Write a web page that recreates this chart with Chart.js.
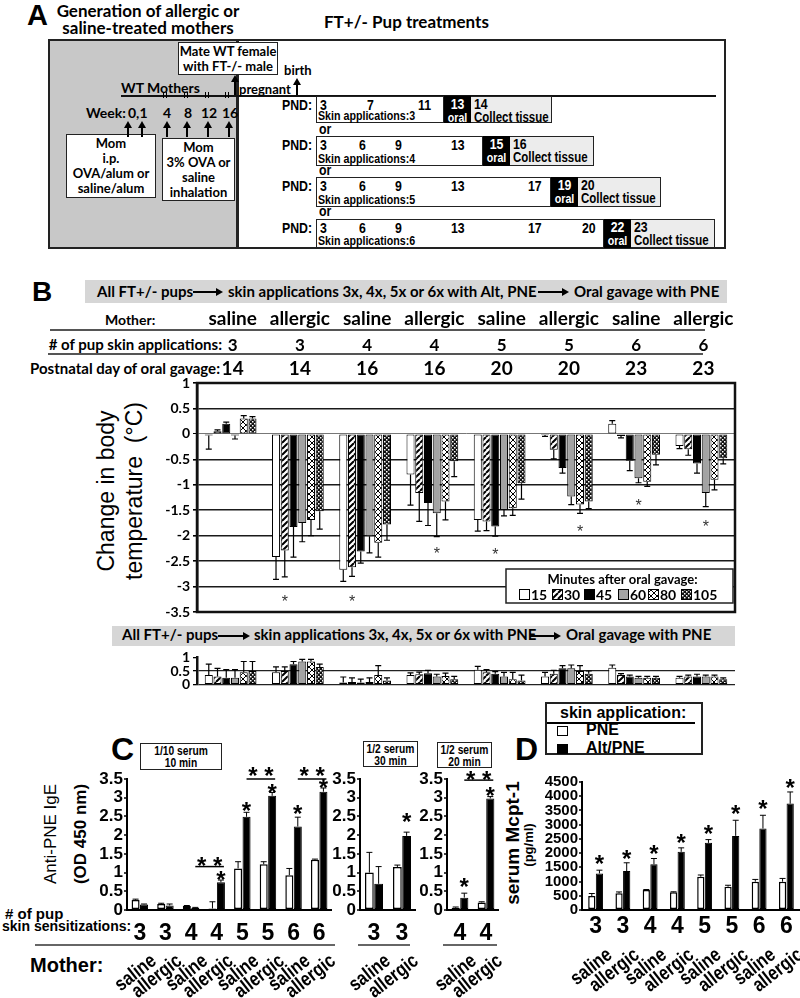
<!DOCTYPE html>
<html>
<head>
<meta charset="utf-8">
<title>Allergic mothers, FT+/- pups</title>
<script src="https://cdn.jsdelivr.net/npm/chart.js@4.4.1/dist/chart.umd.min.js"></script>
<style>
  html,body{margin:0;padding:0;background:#fff;}
  #page{position:relative;width:800px;height:998px;overflow:hidden;background:#fff;color:#000;}
  #page div, #page canvas{position:absolute;}
  .cal{font-family:Lato,'Open Sans',sans-serif;font-weight:700;white-space:nowrap;}
  .ari{font-family:'Liberation Sans',Arial,sans-serif;font-weight:700;white-space:nowrap;}
  .nar{font-family:'Liberation Sans',Arial,sans-serif;font-weight:700;white-space:nowrap;transform:scaleX(0.82);transform-origin:0 0;}
  .reg{font-family:'Liberation Sans',Arial,sans-serif;font-weight:400;white-space:nowrap;}
  .rot{transform:translate(-50%,-50%) rotate(-90deg);}
  .bx{border:1.5px solid #222;box-sizing:border-box;}
</style>
</head>
<body>
<div id="page">
  <!-- Panel A -->
  <div class="ari" style="left:27px;top:1px;font-size:29px;line-height:29px">A</div>
  <div class="cal" style="left:48px;top:2px;width:200px;text-align:center;font-size:17px;line-height:17px">Generation of allergic or<br>saline-treated mothers</div>
  <div class="cal" style="left:324px;top:13px;font-size:17px;line-height:17px">FT+/- Pup treatments</div>
  <div style="left:48px;top:39px;width:191px;height:210px;background:#c8c8c8;border:2px solid #222;box-sizing:border-box"></div>
  <div style="left:236px;top:39px;width:490px;height:210px;background:#fff;border:2px solid #222;border-left-width:3px;box-sizing:border-box"></div>
  <div class="cal bx" style="left:178px;top:42px;width:100px;height:33px;background:#fff;text-align:center;font-size:13px;line-height:15px;padding-top:1px">Mate WT female<br>with FT-/- male</div>
  <div class="cal" style="left:284px;top:64px;font-size:13px;line-height:13px">birth</div>
  <div style="left:121px;top:95px;width:595px;height:2px;background:#111"></div>
  <div class="cal" style="left:121px;top:81px;font-size:14px;line-height:14px">WT Mothers</div>
  <div class="cal" style="left:239px;top:83px;font-size:13px;line-height:13px">pregnant</div>
  <div class="cal" style="left:86px;top:106px;font-size:14px;line-height:14px">Week:</div>
  <div class="cal" style="left:128px;top:106px;font-size:14px;line-height:14px">0,1</div>
  <div class="cal" style="left:163px;top:106px;font-size:14px;line-height:14px">4</div>
  <div class="cal" style="left:184px;top:106px;font-size:14px;line-height:14px">8</div>
  <div class="cal" style="left:201px;top:106px;font-size:14px;line-height:14px">12</div>
  <div class="cal" style="left:222px;top:106px;font-size:14px;line-height:14px">16</div>
  <div class="cal bx" style="left:66px;top:134px;width:90px;height:64px;background:#fff;text-align:center;font-size:13px;line-height:15px;padding-top:1px">Mom<br>i.p.<br>OVA/alum or<br>saline/alum</div>
  <div class="cal bx" style="left:162px;top:138px;width:73px;height:63px;background:#fff;text-align:center;font-size:13px;line-height:15px;padding-top:1px">Mom<br>3% OVA or<br>saline<br>inhalation</div>
  <div class="nar" style="left:319px;top:121px;font-size:15px;line-height:15px">or</div>
  <div class="nar" style="left:319px;top:162px;font-size:15px;line-height:15px">or</div>
  <div class="nar" style="left:319px;top:203px;font-size:15px;line-height:15px">or</div>

  <!-- Panel B header -->
  <div class="ari" style="left:32px;top:278px;font-size:28px;line-height:28px">B</div>
  <div style="left:85px;top:280px;width:642px;height:23px;background:#d6d6d6"></div>
  <div class="cal" style="left:97px;top:284px;font-size:15px;line-height:15px">All FT+/- pups</div>
  <div class="cal" style="left:228px;top:284px;font-size:15px;line-height:15px">skin applications 3x, 4x, 5x or 6x with Alt, PNE</div>
  <div class="cal" style="left:574px;top:284px;font-size:15px;line-height:15px">Oral gavage with PNE</div>
  <div class="cal" style="left:105px;top:313px;font-size:14px;line-height:14px">Mother:</div>
  <div style="left:50px;top:329px;width:655px;height:2px;background:#555"></div>
  <div class="cal" style="left:0;top:337px;width:222px;text-align:right;font-size:15px;line-height:15px"># of pup skin applications:</div>
  <div style="left:48px;top:353px;width:655px;height:2px;background:#555"></div>
  <div class="cal" style="left:0;top:361px;width:220px;text-align:right;font-size:15px;line-height:15px">Postnatal day of oral gavage:</div>
  <div class="reg rot" style="left:106px;top:491px;font-size:23px;line-height:23px">Change in body</div>
  <div class="reg rot" style="left:134px;top:491px;font-size:23px;line-height:23px">temperature&nbsp; (°C)</div>
  <div style="left:112px;top:626px;width:623px;height:20px;background:#d6d6d6"></div>
  <div class="cal" style="left:122px;top:627px;font-size:15px;line-height:15px">All FT+/- pups</div>
  <div class="cal" style="left:254px;top:627px;font-size:15px;line-height:15px">skin applications 3x, 4x, 5x or 6x with PNE</div>
  <div class="cal" style="left:566px;top:627px;font-size:15px;line-height:15px">Oral gavage with PNE</div>

  <!-- Panel C -->
  <div class="ari" style="left:111px;top:733px;font-size:32px;line-height:32px">C</div>
  <div class="bx" style="left:140px;top:743px;width:82px;height:27px"></div>
  <div class="nar" style="left:140px;top:745px;width:100px;text-align:center;font-size:12.5px;line-height:12px">1/10 serum<br>10 min</div>
  <div class="bx" style="left:363px;top:741px;width:55px;height:26px"></div>
  <div class="nar" style="left:363px;top:743px;width:67px;text-align:center;font-size:12.5px;line-height:12px">1/2 serum<br>30 min</div>
  <div class="bx" style="left:437px;top:742px;width:55px;height:26px"></div>
  <div class="nar" style="left:437px;top:744px;width:67px;text-align:center;font-size:12.5px;line-height:12px">1/2 serum<br>20 min</div>
  <div class="reg rot" style="left:50px;top:834px;font-size:17px;line-height:17px">Anti-PNE IgE</div>
  <div class="ari rot" style="left:80px;top:834px;font-size:17px;line-height:17px">(OD 450 nm)</div>
  <div class="ari" style="left:5px;top:906px;font-size:15px;line-height:15px"># of pup</div>
  <div class="ari" style="left:2px;top:919px;font-size:14px;line-height:14px">skin sensitizations:</div>
  <div style="left:35px;top:944px;width:300px;height:2px;background:#666"></div>
  <div style="left:358px;top:944px;width:52px;height:2px;background:#666"></div>
  <div style="left:443px;top:944px;width:54px;height:2px;background:#666"></div>
  <div class="ari" style="left:30px;top:955px;font-size:20px;line-height:20px">Mother:</div>

  <!-- Panel D -->
  <div class="ari" style="left:515px;top:733px;font-size:32px;line-height:32px">D</div>
  <div style="left:545px;top:702px;width:158px;height:53px;border:2px solid #222;box-sizing:border-box;background:#fff"></div>
  <div class="ari" style="left:560px;top:705px;font-size:16px;line-height:16px">skin application:</div>
  <div style="left:547px;top:722px;width:148px;height:2px;background:#000"></div>
  <div style="left:557px;top:726px;width:11px;height:10px;border:1.5px solid #000;box-sizing:border-box"></div>
  <div class="ari" style="left:586px;top:722px;font-size:16px;line-height:16px">PNE</div>
  <div style="left:557px;top:744px;width:11px;height:10px;background:#000"></div>
  <div class="ari" style="left:586px;top:740px;font-size:16px;line-height:16px">Alt/PNE</div>
  <div class="ari rot" style="left:512px;top:843px;font-size:19px;line-height:19px">serum Mcpt-1</div>
  <div class="ari rot" style="left:528px;top:845px;font-size:13px;line-height:13px">(pg/ml)</div>

  <canvas id="bMain" width="745" height="320" style="left:0;top:305px"></canvas>
  <canvas id="bPne" width="745" height="50" style="left:0;top:646px"></canvas>
  <canvas id="c1" width="340" height="258" style="left:0;top:740px"></canvas>
  <canvas id="c2" width="93" height="258" style="left:328px;top:740px"></canvas>
  <canvas id="c3" width="89" height="258" style="left:415px;top:740px"></canvas>
  <canvas id="d1" width="262" height="258" style="left:538px;top:740px"></canvas>
</div>

<script>
// ---------- data ----------
const groupMothers = ['saline','allergic','saline','allergic','saline','allergic','saline','allergic'];
const groupSkinApps = [3,3,4,4,5,5,6,6];
const groupGavageDay = [14,14,16,16,20,20,23,23];
const minuteLabels = ['15','30','45','60','80','105'];

// B: Alt, PNE skin applications -> change in body temperature (°C), per minute after gavage
const alt15 = [-0.03,-2.42,-2.67,-0.80,-1.69,-0.02, 0.20,-0.24];
const alt30 = [ 0.05,-2.29,-2.62,-1.16,-1.72,-0.31,-0.04,-0.30];
const alt45 = [ 0.20,-1.83,-2.31,-1.36,-1.82,-0.67,-0.53,-0.58];
const alt60 = [-0.03,-1.75,-2.01,-1.56,-1.49,-1.23,-0.87,-1.16];
const alt80 = [ 0.30,-1.69,-2.14,-1.33,-1.46,-1.39,-0.94,-0.90];
const alt105 = [0.30,-1.52,-1.78,-0.54,-0.97,-1.33,-0.41,-0.48];
const alt15Err = [0.27,0.44,0.23,0.60,0.22,0.03,0.06,0.05];
const alt30Err = [0.03,0.52,0.18,0.56,0.18,0.18,0.04,0.12];
const alt45Err = [0.03,0.59,0.23,0.44,0.19,0.10,0.19,0.19];
const alt60Err = [0.07,0.37,0.33,0.46,0.12,0.16,0.09,0.27];
const alt80Err = [0.06,0.31,0.28,0.36,0.14,0.17,0.09,0.20];
const alt105Err = [0.04,0.35,0.31,0.30,0.31,0.14,0.20,0.11];
// significance marks: [group, minute index, y]
const altStars = [[1,1,-3.22],[2,1,-3.22],[3,3,-2.27],[4,2,-2.30],[5,4,-1.84],[6,3,-1.33],[7,3,-1.75]];

// B lower: PNE-only skin applications
const pne15 = [0.35,0.45,0.08,0.35,0.55,0.30,0.62,0.25];
const pne30 = [0.30,0.50,0.10,0.38,0.45,0.40,0.35,0.30];
const pne45 = [0.25,0.75,0.08,0.42,0.40,0.60,0.30,0.30];
const pne60 = [0.25,0.85,0.10,0.30,0.30,0.60,0.25,0.30];
const pne80 = [0.45,0.85,0.35,0.32,0.20,0.50,0.25,0.30];
const pne105 = [0.50,0.65,0.15,0.20,0.15,0.40,0.25,0.20];
const pne15Err = [0.40,0.20,0.20,0.08,0.12,0.15,0.10,0.05];
const pne30Err = [0.30,0.15,0.15,0.08,0.10,0.12,0.05,0.05];
const pne45Err = [0.30,0.10,0.12,0.10,0.08,0.10,0.05,0.08];
const pne60Err = [0.30,0.08,0.15,0.08,0.15,0.12,0.05,0.05];
const pne80Err = [0.40,0.08,0.35,0.10,0.25,0.20,0.05,0.05];
const pne105Err = [0.35,0.10,0.10,0.10,0.20,0.10,0.05,0.05];

// C: anti-PNE IgE (OD 450 nm)
const igePne = [0.27,0.16,0.11,0.04,1.11,1.22,0.93,1.34];
const igePneErr = [0.02,0.02,0.01,0.18,0.18,0.07,0.18,0.02];
const igeAlt = [0.15,0.12,0.06,0.74,2.49,3.05,2.23,3.16];
const igeAltErr = [0.01,0.04,0.01,0.06,0.12,0.09,0.25,0.10];
const igeStars = [[3,0.96],[4,2.81],[5,3.29],[6,2.73],[7,3.42]];
const c2Mothers = ['saline','allergic'];
const c2Skin = [3,3];
const ige2Pne = [1.00,1.15], ige2PneErr = [0.54,0.05];
const ige2Alt = [0.70,1.98], ige2AltErr = [0.46,0.10];
const c3Skin = [4,4];
const ige3Pne = [0.06,0.20], ige3PneErr = [0.02,0.02];
const ige3Alt = [0.33,2.98], ige3AltErr = [0.12,0.05];

// D: serum Mcpt-1 (pg/ml)
const mcptPne = [490,585,700,620,1170,820,995,995];
const mcptPneErr = [90,50,20,20,60,50,80,115];
const mcptAlt = [1285,1370,1610,2045,2360,2605,2865,3740];
const mcptAltErr = [115,290,200,140,115,550,465,410];
const mcptStars = [1812,1987,2162,2571,2864,3565,3740,4480];

// ---------- diagram helpers (panel A, arrows) ----------
const ARIAL = "'Liberation Sans', Arial, sans-serif";
const LATO = "Lato, 'Open Sans', sans-serif";

function add(html){ document.getElementById('page').insertAdjacentHTML('beforeend', html); }
function upArrow(x, top, bottom){
  add(`<div style="left:${x-1}px;top:${top+6}px;width:2px;height:${bottom-top-6}px;background:#000"></div>`);
  add(`<div style="left:${x-4}px;top:${top}px;width:0;height:0;border-left:4px solid transparent;border-right:4px solid transparent;border-bottom:7px solid #000"></div>`);
}
function rightArrow(x1, x2, y){
  add(`<div style="left:${x1}px;top:${y-1}px;width:${x2-x1-6}px;height:1.5px;background:#000"></div>`);
  add(`<div style="left:${x2-7}px;top:${y-4}px;width:0;height:0;border-top:4px solid transparent;border-bottom:4px solid transparent;border-left:7px solid #000"></div>`);
}
[[128,121,137],[142,121,137],[167,121,137],[187,121,137],[208,121,137],[229,121,137],[235,75,95],[297,78,95]]
  .forEach(a => upArrow(...a));
[165,186,207,227].forEach(x => add(`<div style="left:${x-2}px;top:92px;width:1px;height:6px;background:#000;box-shadow:3px 0 0 #000"></div>`));
rightArrow(193, 223, 292); rightArrow(538, 569, 292);
rightArrow(218, 250, 636); rightArrow(530, 561, 636);

const pndRows = [
  {top:96, h:27, white:444, black:471, gray:552, apps:3, oral:'13', collect:'14', days:[['3',320],['7',367],['11',418]]},
  {top:136, h:30, white:483, black:510, gray:594, apps:4, oral:'15', collect:'16', days:[['3',320],['6',359],['9',395],['13',451]]},
  {top:177, h:30, white:551, black:578, gray:661, apps:5, oral:'19', collect:'20', days:[['3',320],['6',359],['9',395],['13',451],['17',528]]},
  {top:219, h:29, white:604, black:631, gray:715, apps:6, oral:'22', collect:'23', days:[['3',320],['6',359],['9',395],['13',451],['17',528],['20',582]]}
];
pndRows.forEach(r => {
  add(`<div class="nar" style="left:282px;top:${r.top+1}px;font-size:15px;line-height:15px">PND:</div>`);
  add(`<div class="bx" style="left:316px;top:${r.top}px;width:${r.white-316}px;height:${r.h}px;background:#fff"></div>`);
  r.days.forEach(([t, x]) => add(`<div class="nar" style="left:${x}px;top:${r.top+1}px;font-size:15px;line-height:15px">${t}</div>`));
  add(`<div class="nar" style="left:318px;top:${r.top+r.h-14}px;font-size:13px;line-height:13px">Skin applications:${r.apps}</div>`);
  add(`<div style="left:${r.white}px;top:${r.top}px;width:${r.black-r.white}px;height:${r.h}px;background:#000"></div>`);
  add(`<div class="nar" style="left:${r.white}px;top:${r.top+1}px;width:${(r.black-r.white)/0.82}px;color:#fff;text-align:center;font-size:15px;line-height:13px">${r.oral}<br><span style="font-size:13px">oral</span></div>`);
  add(`<div class="bx" style="left:${r.black}px;top:${r.top}px;width:${r.gray-r.black}px;height:${r.h}px;border-left:none;background:#ececec"></div>`);
  add(`<div class="nar" style="left:${r.black+3}px;top:${r.top+1}px;font-size:15px;line-height:13px">${r.collect}<br><span style="font-size:14px">Collect tissue</span></div>`);
});

// ---------- bar fills ----------
function tile(kind){
  const c = document.createElement('canvas');
  const g = c.getContext('2d');
  if(kind === 'stripe'){
    c.width = c.height = 6;
    g.fillStyle = '#fff'; g.fillRect(0,0,6,6);
    g.strokeStyle = '#000'; g.lineWidth = 2;
    g.beginPath();
    for(let k=-6;k<=6;k+=6){ g.moveTo(k,6); g.lineTo(k+6,0); }
    g.stroke();
  }else if(kind === 'cross'){
    c.width = c.height = 6;
    g.fillStyle = '#fff'; g.fillRect(0,0,6,6);
    g.strokeStyle = '#000'; g.lineWidth = 1;
    g.beginPath();
    g.moveTo(0,0); g.lineTo(6,6); g.moveTo(0,6); g.lineTo(6,0);
    g.stroke();
  }else{
    c.width = c.height = 4;
    g.fillStyle = '#111'; g.fillRect(0,0,4,4);
    g.fillStyle = '#fff'; g.fillRect(0,0,1.5,1.5); g.fillRect(2,2,1.5,1.5);
  }
  return g.createPattern(c, 'repeat');
}
const minuteFills = ['#ffffff', tile('stripe'), '#000000', '#a3a3a3', tile('cross'), tile('check')];

// ---------- plugins ----------
const errorBars = {
  id: 'errorBars',
  afterDatasetsDraw(chart, args, o){
    const ctx = chart.ctx, ys = chart.scales.y;
    ctx.save();
    ctx.strokeStyle = '#000';
    ctx.lineWidth = o.width || 1.2;
    chart.data.datasets.forEach((ds, di) => {
      if(!ds.errors) return;
      chart.getDatasetMeta(di).data.forEach((bar, i) => {
        const v = ds.data[i], e = ds.errors[i];
        const yEnd = ys.getPixelForValue(v >= 0 ? v + e : v - e);
        const cap = o.cap || 3;
        ctx.beginPath();
        ctx.moveTo(bar.x, bar.y); ctx.lineTo(bar.x, yEnd);
        ctx.moveTo(bar.x - cap, yEnd); ctx.lineTo(bar.x + cap, yEnd);
        ctx.stroke();
      });
    });
    ctx.restore();
  }
};

function star(ctx, text, x, yc, size){
  ctx.fillText(text, x, yc + 0.57 * size);
}

const marks = {
  id: 'marks',
  afterDatasetsDraw(chart, args, o){
    const ctx = chart.ctx, ys = chart.scales.y;
    ctx.save();
    ctx.fillStyle = o.color || '#000';
    ctx.strokeStyle = '#000';
    ctx.font = o.font;
    ctx.textAlign = 'center';
    ctx.textBaseline = 'alphabetic';
    (o.stars || []).forEach(s => {
      const bar = chart.getDatasetMeta(s[1]).data[s[0]];
      star(ctx, '*', bar.x, ys.getPixelForValue(s[2]), o.size);
    });
    (o.brackets || []).forEach(b => {
      const a = chart.getDatasetMeta(1).data[b[0]], z = chart.getDatasetMeta(1).data[b[1]];
      const y = ys.getPixelForValue(b[2]);
      ctx.lineWidth = 1.5;
      ctx.beginPath(); ctx.moveTo(a.x, y); ctx.lineTo(z.x + 3, y); ctx.stroke();
      star(ctx, '* *', (a.x + z.x + 3) / 2, ys.getPixelForValue(b[3]), o.size);
    });
    ctx.restore();
  }
};

const frame = {
  id: 'frame',
  afterDatasetsDraw(chart, args, o){
    const {ctx, chartArea: a} = chart;
    ctx.save();
    ctx.strokeStyle = '#111'; ctx.lineWidth = o.width || 2.5;
    ctx.strokeRect(a.left, a.top, a.right - a.left, a.bottom - a.top);
    ctx.restore();
  }
};

const topTable = {
  id: 'topTable',
  afterDraw(chart, args, o){
    const ctx = chart.ctx, xs = chart.scales.x;
    ctx.save();
    ctx.fillStyle = '#000'; ctx.textAlign = 'center'; ctx.textBaseline = 'alphabetic';
    groupMothers.forEach((m, i) => {
      const x = xs.getPixelForValue(i) + 2;
      ctx.font = `bold 19px ${LATO}`; ctx.fillText(m, x, o.motherY);
      ctx.font = `bold 17px ${LATO}`; ctx.fillText(String(groupSkinApps[i]), x, o.countY);
      ctx.font = `bold 19px ${LATO}`; ctx.fillText(String(groupGavageDay[i]), x, o.dayY);
    });
    ctx.restore();
  }
};

const legendSlots = [13, 46, 78, 112, 142, 175];
const minuteLegend = {
  id: 'minuteLegend',
  afterDraw(chart){
    const {ctx, chartArea: a} = chart;
    const w = 227, h = 34, x0 = a.right - w - 2, y0 = a.bottom - h - 9;
    ctx.save();
    ctx.fillStyle = '#fff'; ctx.fillRect(x0, y0, w, h);
    ctx.strokeStyle = '#222'; ctx.lineWidth = 1.5; ctx.strokeRect(x0, y0, w, h);
    ctx.fillStyle = '#000'; ctx.font = `bold 13px ${LATO}`; ctx.textAlign = 'center'; ctx.textBaseline = 'alphabetic';
    ctx.fillText('Minutes after oral gavage:', x0 + w / 2 + 3, y0 + 15);
    ctx.textAlign = 'left'; ctx.font = `bold 14px ${LATO}`;
    chart.data.datasets.forEach((ds, k) => {
      const x = x0 + legendSlots[k];
      ctx.fillStyle = ds.backgroundColor; ctx.fillRect(x, y0 + 20, 10, 10);
      ctx.strokeStyle = '#000'; ctx.lineWidth = 1; ctx.strokeRect(x + 0.5, y0 + 20.5, 10, 10);
      ctx.fillStyle = '#000'; ctx.fillText(ds.label, x + 12, y0 + 31);
    });
    ctx.restore();
  }
};

const groupLabels = {
  id: 'groupLabels',
  afterDraw(chart, args, o){
    const ctx = chart.ctx, xs = chart.scales.x;
    ctx.save();
    ctx.fillStyle = '#000';
    ctx.font = `bold ${o.countSize}px ${ARIAL}`; ctx.textAlign = 'center'; ctx.textBaseline = 'alphabetic';
    o.counts.forEach((c, i) => ctx.fillText(String(c), xs.getPixelForValue(i), o.countY));
    ctx.font = `bold ${o.motherSize}px ${ARIAL}`; ctx.textAlign = 'right'; ctx.textBaseline = 'top';
    o.mothers.forEach((m, i) => {
      ctx.save();
      ctx.translate(xs.getPixelForValue(i) + o.dx, o.motherY);
      ctx.rotate(-o.angle * Math.PI / 180);
      ctx.scale(0.82, 1);
      ctx.fillText(m, 0, 0);
      ctx.restore();
    });
    ctx.restore();
  }
};

// ---------- chart builders ----------
function minuteDatasets(series, errs){
  return minuteLabels.map((m, k) => ({
    label: m, data: series[k], errors: errs[k],
    backgroundColor: minuteFills[k], borderColor: '#000', borderWidth: 1, borderSkipped: false,
    barPercentage: 0.92, categoryPercentage: 0.78
  }));
}

function tempChart(id, series, errs, yMin, yMax, pad, extra){
  return new Chart(document.getElementById(id), {
    type: 'bar',
    data: { labels: groupMothers, datasets: minuteDatasets(series, errs) },
    options: {
      responsive: false, animation: false,
      layout: { padding: pad },
      plugins: Object.assign({ legend: { display: false }, tooltip: { enabled: false }, errorBars: { cap: 3, width: 1.2 } }, extra.opts),
      scales: {
        x: { display: false },
        y: {
          min: yMin, max: yMax,
          afterFit(s){ s.width = 47; },
          ticks: { stepSize: 0.5, autoSkip: false, callback: v => String(v), color: '#000', padding: 3,
                   font: { family: LATO, weight: 'bold', size: 14 } },
          grid: { color: extra.gridColor, lineWidth: extra.gridWidth, tickLength: 4, tickColor: '#000' },
          border: { color: '#111', width: 2.5 }
        }
      }
    },
    plugins: extra.plugins
  });
}

function pairChart(id, cfg){
  return new Chart(document.getElementById(id), {
    type: 'bar',
    data: {
      labels: cfg.labels,
      datasets: [
        { label: 'PNE', data: cfg.pne, errors: cfg.pneErr, backgroundColor: '#fff', borderColor: '#000', borderWidth: 1.5,
          borderSkipped: false, barPercentage: 0.95, categoryPercentage: cfg.cat },
        { label: 'Alt/PNE', data: cfg.alt, errors: cfg.altErr, backgroundColor: '#000', borderColor: '#000', borderWidth: 1,
          borderSkipped: false, barPercentage: 0.95, categoryPercentage: cfg.cat }
      ]
    },
    options: {
      responsive: false, animation: false,
      layout: { padding: cfg.pad },
      plugins: {
        legend: { display: false }, tooltip: { enabled: false },
        errorBars: { cap: 3, width: 1 },
        marks: { stars: cfg.stars, brackets: cfg.brackets || [], font: `bold 24px ${ARIAL}`, size: 24 },
        groupLabels: { counts: cfg.counts, mothers: cfg.labels, countSize: 23, countY: cfg.countY,
                       motherSize: 20, motherY: cfg.motherY, dx: 8, angle: 38 }
      },
      scales: {
        x: { display: false },
        y: {
          min: 0, max: cfg.max,
          afterFit(s){ s.width = cfg.axisW; },
          ticks: { stepSize: cfg.step, autoSkip: false, callback: v => String(v), color: '#000', padding: 1,
                   font: { family: ARIAL, weight: 'bold', size: cfg.tickSize } },
          grid: { color: c => (c.tick && c.tick.value === 0) ? '#000' : 'rgba(0,0,0,0)', lineWidth: 2,
                  tickLength: 3, tickColor: '#000', tickWidth: 1.5 },
          border: { color: '#000', width: 2 }
        }
      }
    },
    plugins: [errorBars, marks, groupLabels]
  });
}

// B main (Alt, PNE)
tempChart('bMain',
  [alt15, alt30, alt45, alt60, alt80, alt105],
  [alt15Err, alt30Err, alt45Err, alt60Err, alt80Err, alt105Err],
  -3.5, 1, { left: 150, right: 10, top: 78, bottom: 13 },
  {
    gridColor: c => (c.tick && c.tick.value === 0) ? '#777' : '#1a1a1a',
    gridWidth: c => (c.tick && c.tick.value === 0) ? 1 : 1.6,
    opts: { marks: { stars: altStars.map(s => [s[0], s[1], s[2]]), font: `16px ${ARIAL}`, size: 16, color: '#333' },
            frame: { width: 2.5 }, topTable: { motherY: 20, countY: 46, dayY: 70 } },
    plugins: [errorBars, frame, marks, topTable, minuteLegend]
  });

// B lower (PNE only)
tempChart('bPne',
  [pne15, pne30, pne45, pne60, pne80, pne105],
  [pne15Err, pne30Err, pne45Err, pne60Err, pne80Err, pne105Err],
  0, 1, { left: 150, right: 10, top: 8, bottom: 10 },
  {
    gridColor: c => (c.tick && c.tick.value < 1) ? '#222' : 'rgba(0,0,0,0)',
    gridWidth: 1.3,
    opts: {},
    plugins: [errorBars]
  });

// C
pairChart('c1', { labels: groupMothers, counts: groupSkinApps, pne: igePne, pneErr: igePneErr, alt: igeAlt, altErr: igeAltErr,
  stars: igeStars.map(s => [s[0], 1, s[1]]), brackets: [[2,3,1.16,1.34],[4,5,3.5,3.74],[6,7,3.5,3.74]],
  max: 3.5, step: 0.5, tickSize: 17, axisW: 37, cat: 0.66,
  pad: { left: 90, right: 8, top: 39, bottom: 88 }, countY: 200, motherY: 211 });
pairChart('c2', { labels: c2Mothers, counts: c2Skin, pne: ige2Pne, pneErr: ige2PneErr, alt: ige2Alt, altErr: ige2AltErr,
  stars: [[1,1,2.5]], max: 3.5, step: 0.5, tickSize: 17, axisW: 32, cat: 0.66,
  pad: { left: 0, right: 5, top: 39, bottom: 88 }, countY: 200, motherY: 211 });
pairChart('c3', { labels: c2Mothers, counts: c3Skin, pne: ige3Pne, pneErr: ige3PneErr, alt: ige3Alt, altErr: ige3AltErr,
  stars: [[0,1,0.76],[1,1,3.2]], brackets: [[0,1,3.47,3.62]], max: 3.5, step: 0.5, tickSize: 17, axisW: 32, cat: 0.66,
  pad: { left: 0, right: 5, top: 39, bottom: 88 }, countY: 200, motherY: 211 });

// D
pairChart('d1', { labels: groupMothers, counts: groupSkinApps, pne: mcptPne, pneErr: mcptPneErr, alt: mcptAlt, altErr: mcptAltErr,
  stars: mcptStars.map((y, i) => [i, 1, y]), max: 4500, step: 500, tickSize: 15, axisW: 44, cat: 0.56,
  pad: { left: 0, right: 0, top: 42, bottom: 88 }, countY: 193, motherY: 205 });
</script>
</body>
</html>
